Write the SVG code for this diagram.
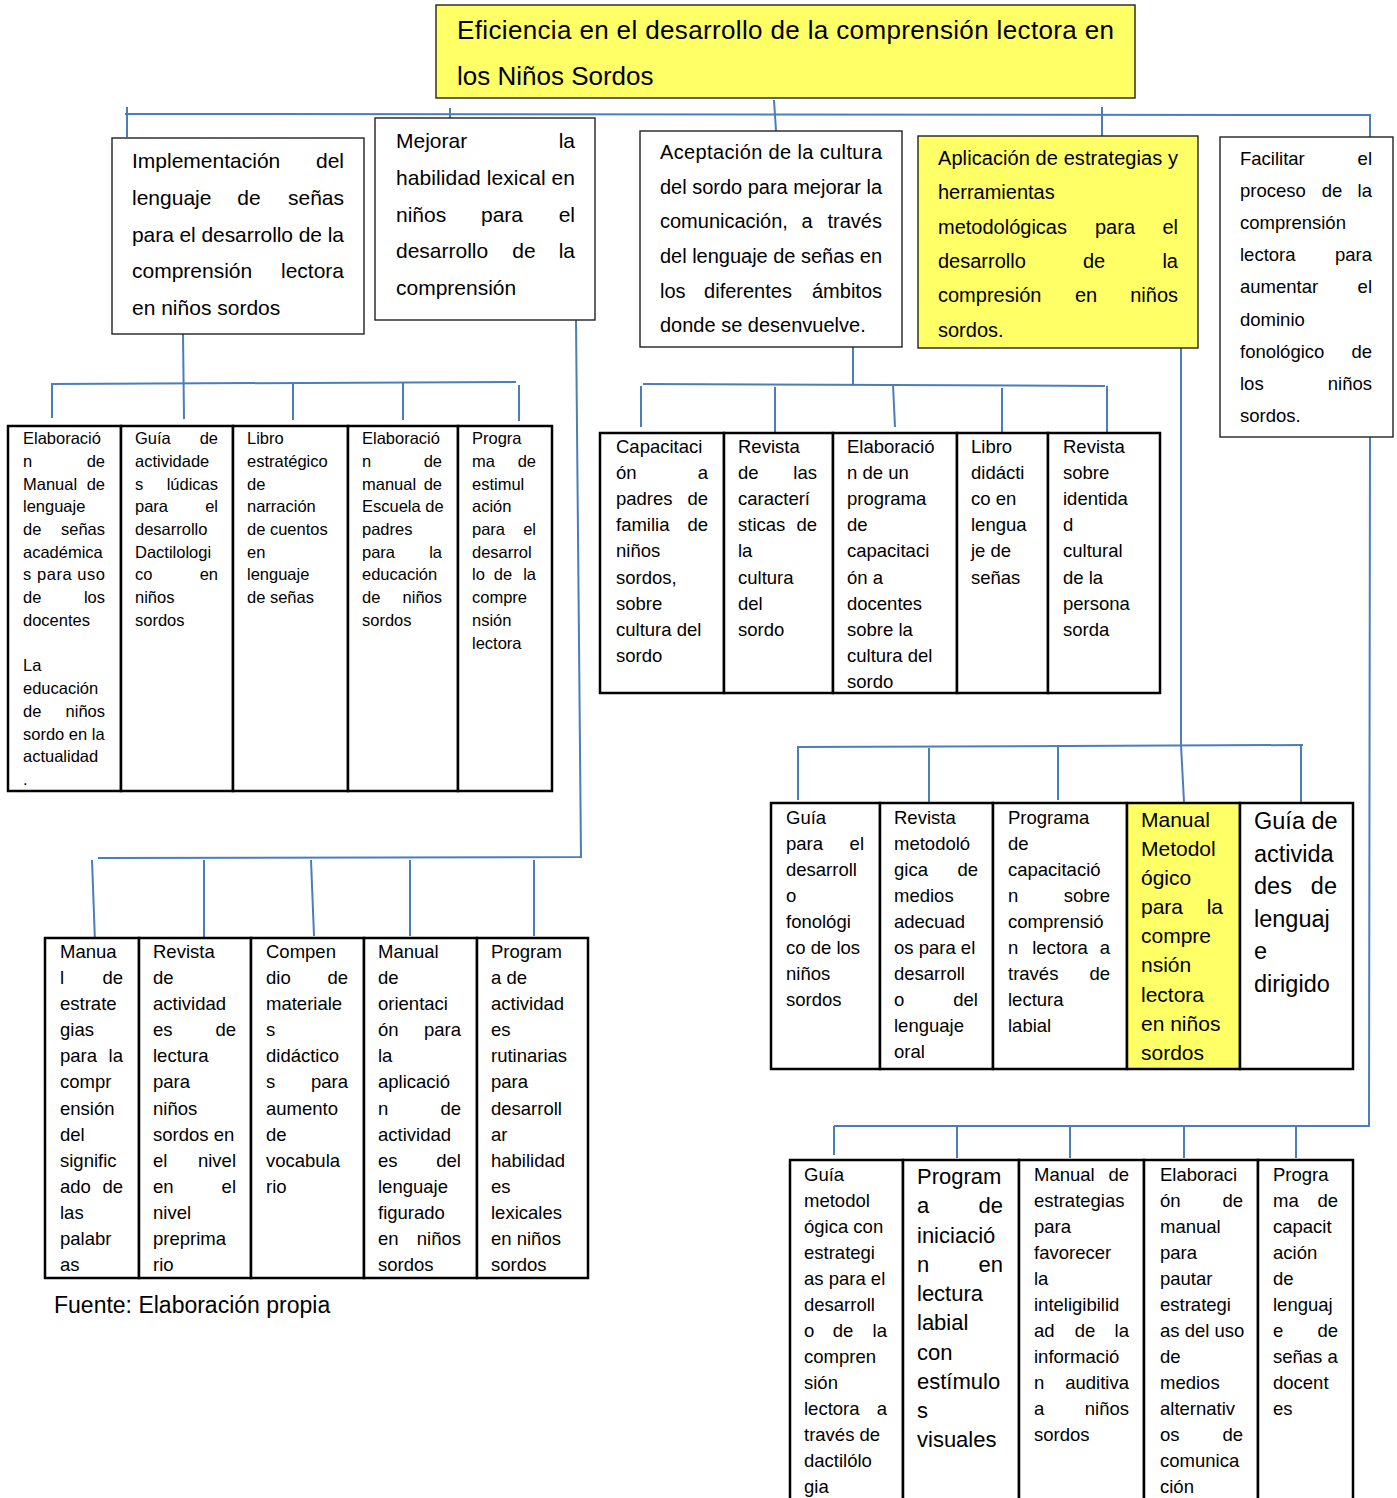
<svg xmlns="http://www.w3.org/2000/svg" width="1397" height="1498" viewBox="0 0 1397 1498">
<style>
text{font-family:"Liberation Sans",Arial,sans-serif;fill:#000}
.bx{fill:#fff;stroke:#222;stroke-width:1.4}
.yl{fill:#FFFF66}
.cl{fill:#fff;stroke:#000;stroke-width:2.5}
.cy{fill:#FFFF66;stroke:#000;stroke-width:2.5}
.cn{fill:none;stroke:#4A7EBB;stroke-width:2}
.r{text-anchor:end}
.m{text-anchor:middle}
.tt{font-size:26px}
.s21{font-size:21px}
.s20{font-size:20px}
.se{font-size:18.5px}
.s16{font-size:16.5px}
.s18{font-size:18.5px}
.s22{font-size:21px}
.s24{font-size:23.5px}
.s22b{font-size:22px}
.cap{font-size:23px}
</style>
<rect width="1397" height="1498" fill="#fff"/>

<g id="connectors">
<polyline class="cn" points="125,114 1370,115 1370,147"/>
<line class="cn" x1="127" y1="107" x2="127" y2="137"/>
<line class="cn" x1="450" y1="108" x2="450" y2="129"/>
<line class="cn" x1="774" y1="100" x2="776" y2="131"/>
<line class="cn" x1="1102" y1="107" x2="1102" y2="144"/>
<line class="cn" x1="183" y1="334" x2="184" y2="419"/>
<line class="cn" x1="51" y1="384" x2="516" y2="382"/>
<line class="cn" x1="52" y1="384" x2="52" y2="418"/>
<line class="cn" x1="293" y1="384" x2="293" y2="420"/>
<line class="cn" x1="403" y1="383" x2="403" y2="420"/>
<line class="cn" x1="519" y1="385" x2="519" y2="421"/>
<line class="cn" x1="853" y1="347" x2="853" y2="386"/>
<line class="cn" x1="643" y1="384" x2="1105" y2="386"/>
<line class="cn" x1="641" y1="386" x2="641" y2="427"/>
<line class="cn" x1="775" y1="387" x2="775" y2="432"/>
<line class="cn" x1="893" y1="385" x2="895" y2="427"/>
<line class="cn" x1="1002" y1="388" x2="1002" y2="432"/>
<line class="cn" x1="1107" y1="386" x2="1107" y2="432"/>
<polyline class="cn" points="1181,348 1181,745 1184,802"/>
<line class="cn" x1="798" y1="747" x2="1303" y2="745"/>
<line class="cn" x1="798" y1="746" x2="798" y2="800"/>
<line class="cn" x1="929" y1="748" x2="929" y2="802"/>
<line class="cn" x1="1058" y1="745" x2="1058" y2="800"/>
<line class="cn" x1="1301" y1="746" x2="1301" y2="802"/>
<polyline class="cn" points="1370,437 1369,1126 834,1126"/>
<line class="cn" x1="834" y1="1126" x2="834" y2="1155"/>
<line class="cn" x1="957" y1="1126" x2="957" y2="1158"/>
<line class="cn" x1="1070" y1="1126" x2="1070" y2="1158"/>
<line class="cn" x1="1184" y1="1126" x2="1184" y2="1158"/>
<line class="cn" x1="1296" y1="1126" x2="1296" y2="1158"/>
<polyline class="cn" points="576,320 581,857 98,858"/>
<line class="cn" x1="92" y1="860" x2="95" y2="942"/>
<line class="cn" x1="204" y1="860" x2="204" y2="938"/>
<line class="cn" x1="311" y1="860" x2="314" y2="936"/>
<line class="cn" x1="410" y1="860" x2="410" y2="936"/>
<line class="cn" x1="534" y1="860" x2="534" y2="936"/>
</g>

<g id="n0">
<rect class="bx yl" x="436" y="5" width="699" height="93"/>
<text class="tt" x="457" y="39" textLength="657" lengthAdjust="spacing">Eficiencia en el desarrollo de la comprensión lectora en</text>
<text class="tt" x="457" y="85">los Niños Sordos</text>
</g>

<g id="n1" class="s21">
<rect class="bx" x="112" y="138" width="252" height="196"/>
<text x="132" y="168">Implementación</text><text class="r" x="344" y="168">del</text>
<text x="132" y="205">lenguaje</text><text class="m" x="249" y="205">de</text><text class="r" x="344" y="205">señas</text>
<text x="132" y="242" textLength="212" lengthAdjust="spacing">para el desarrollo de la</text>
<text x="132" y="278">comprensión</text><text class="r" x="344" y="278">lectora</text>
<text x="132" y="315">en niños sordos</text>
</g>

<g id="n2" class="s21">
<rect class="bx" x="375" y="118" width="220" height="202"/>
<text x="396" y="148">Mejorar</text><text class="r" x="575" y="148">la</text>
<text x="396" y="185" textLength="179" lengthAdjust="spacing">habilidad lexical en</text>
<text x="396" y="222">niños</text><text class="m" x="502" y="222">para</text><text class="r" x="575" y="222">el</text>
<text x="396" y="258">desarrollo</text><text class="m" x="524" y="258">de</text><text class="r" x="575" y="258">la</text>
<text x="396" y="295">comprensión</text>
</g>

<g id="n3" class="s20">
<rect class="bx" x="640" y="131" width="262" height="216"/>
<text x="660" y="159" textLength="222" lengthAdjust="spacing">Aceptación de la cultura</text>
<text x="660" y="194" textLength="222" lengthAdjust="spacing">del sordo para mejorar la</text>
<text x="660" y="228">comunicación,</text><text class="m" x="807" y="228">a</text><text class="r" x="882" y="228">través</text>
<text x="660" y="263" textLength="222" lengthAdjust="spacing">del lenguaje de señas en</text>
<text x="660" y="298">los</text><text class="m" x="748" y="298">diferentes</text><text class="r" x="882" y="298">ámbitos</text>
<text x="660" y="332">donde se desenvuelve.</text>
</g>

<g id="n4" class="s20">
<rect class="bx yl" x="918" y="136" width="280" height="212"/>
<text x="938" y="165" textLength="240" lengthAdjust="spacing">Aplicación de estrategias y</text>
<text x="938" y="199">herramientas</text>
<text x="938" y="234">metodológicas</text><text class="m" x="1115" y="234">para</text><text class="r" x="1178" y="234">el</text>
<text x="938" y="268">desarrollo</text><text class="m" x="1094" y="268">de</text><text class="r" x="1178" y="268">la</text>
<text x="938" y="302">compresión</text><text class="m" x="1086" y="302">en</text><text class="r" x="1178" y="302">niños</text>
<text x="938" y="337">sordos.</text>
</g>

<g id="n5" class="se">
<rect class="bx" x="1220" y="137" width="173" height="300"/>
<text x="1240" y="165">Facilitar</text><text class="r" x="1372" y="165">el</text>
<text x="1240" y="197">proceso</text><text class="m" x="1332" y="197">de</text><text class="r" x="1372" y="197">la</text>
<text x="1240" y="229">comprensión</text>
<text x="1240" y="261">lectora</text><text class="r" x="1372" y="261">para</text>
<text x="1240" y="293">aumentar</text><text class="r" x="1372" y="293">el</text>
<text x="1240" y="326">dominio</text>
<text x="1240" y="358">fonológico</text><text class="r" x="1372" y="358">de</text>
<text x="1240" y="390">los</text><text class="r" x="1372" y="390">niños</text>
<text x="1240" y="422">sordos.</text>
</g>

<!-- Table 1 -->
<g id="n6" class="s16">
<rect class="cl" x="8" y="426" width="113" height="365"/>
<text x="23" y="444">Elaboració</text>
<text x="23" y="467">n</text><text class="r" x="105" y="467">de</text>
<text x="23" y="490">Manual</text><text class="r" x="105" y="490">de</text>
<text x="23" y="512">lenguaje</text>
<text x="23" y="535">de</text><text class="r" x="105" y="535">señas</text>
<text x="23" y="558">académica</text>
<text x="23" y="580" textLength="82" lengthAdjust="spacing">s para uso</text>
<text x="23" y="603">de</text><text class="r" x="105" y="603">los</text>
<text x="23" y="626">docentes</text>
<text x="23" y="671">La</text>
<text x="23" y="694">educación</text>
<text x="23" y="717">de</text><text class="r" x="105" y="717">niños</text>
<text x="23" y="740">sordo en la</text>
<text x="23" y="762">actualidad</text>
<text x="23" y="785">.</text>
</g>
<g id="n7" class="s16">
<rect class="cl" x="121" y="426" width="112" height="365"/>
<text x="135" y="444">Guía</text><text class="r" x="218" y="444">de</text>
<text x="135" y="467">actividade</text>
<text x="135" y="490">s</text><text class="r" x="218" y="490">lúdicas</text>
<text x="135" y="512">para</text><text class="r" x="218" y="512">el</text>
<text x="135" y="535">desarrollo</text>
<text x="135" y="558">Dactilologi</text>
<text x="135" y="580">co</text><text class="r" x="218" y="580">en</text>
<text x="135" y="603">niños</text>
<text x="135" y="626">sordos</text>
</g>
<g id="n8" class="s16">
<rect class="cl" x="233" y="426" width="115" height="365"/>
<text x="247" y="444">Libro</text>
<text x="247" y="467">estratégico</text>
<text x="247" y="490">de</text>
<text x="247" y="512">narración</text>
<text x="247" y="535">de cuentos</text>
<text x="247" y="558">en</text>
<text x="247" y="580">lenguaje</text>
<text x="247" y="603">de señas</text>
</g>
<g id="n9" class="s16">
<rect class="cl" x="348" y="426" width="110" height="365"/>
<text x="362" y="444">Elaboració</text>
<text x="362" y="467">n</text><text class="r" x="442" y="467">de</text>
<text x="362" y="490">manual</text><text class="r" x="442" y="490">de</text>
<text x="362" y="512">Escuela de</text>
<text x="362" y="535">padres</text>
<text x="362" y="558">para</text><text class="r" x="442" y="558">la</text>
<text x="362" y="580">educación</text>
<text x="362" y="603">de</text><text class="r" x="442" y="603">niños</text>
<text x="362" y="626">sordos</text>
</g>
<g id="n10" class="s16">
<rect class="cl" x="458" y="426" width="94" height="365"/>
<text x="472" y="444">Progra</text>
<text x="472" y="467">ma</text><text class="r" x="536" y="467">de</text>
<text x="472" y="490">estimul</text>
<text x="472" y="512">ación</text>
<text x="472" y="535">para</text><text class="r" x="536" y="535">el</text>
<text x="472" y="558">desarrol</text>
<text x="472" y="580">lo</text><text class="m" x="503" y="580">de</text><text class="r" x="536" y="580">la</text>
<text x="472" y="603">compre</text>
<text x="472" y="626">nsión</text>
<text x="472" y="649">lectora</text>
</g>

<!-- Table 2 -->
<g id="n11" class="s18">
<rect class="cl" x="600" y="433" width="124" height="260"/>
<text x="616" y="453">Capacitaci</text>
<text x="616" y="479">ón</text><text class="r" x="708" y="479">a</text>
<text x="616" y="505">padres</text><text class="r" x="708" y="505">de</text>
<text x="616" y="531">familia</text><text class="r" x="708" y="531">de</text>
<text x="616" y="557">niños</text>
<text x="616" y="584">sordos,</text>
<text x="616" y="610">sobre</text>
<text x="616" y="636">cultura del</text>
<text x="616" y="662">sordo</text>
</g>
<g id="n12" class="s18">
<rect class="cl" x="724" y="433" width="109" height="260"/>
<text x="738" y="453">Revista</text>
<text x="738" y="479">de</text><text class="r" x="817" y="479">las</text>
<text x="738" y="505">caracterí</text>
<text x="738" y="531">sticas</text><text class="r" x="817" y="531">de</text>
<text x="738" y="557">la</text>
<text x="738" y="584">cultura</text>
<text x="738" y="610">del</text>
<text x="738" y="636">sordo</text>
</g>
<g id="n13" class="s18">
<rect class="cl" x="833" y="433" width="124" height="260"/>
<text x="847" y="453">Elaboració</text>
<text x="847" y="479">n de un</text>
<text x="847" y="505">programa</text>
<text x="847" y="531">de</text>
<text x="847" y="557">capacitaci</text>
<text x="847" y="584">ón a</text>
<text x="847" y="610">docentes</text>
<text x="847" y="636">sobre la</text>
<text x="847" y="662">cultura del</text>
<text x="847" y="688">sordo</text>
</g>
<g id="n14" class="s18">
<rect class="cl" x="957" y="433" width="91" height="260"/>
<text x="971" y="453">Libro</text>
<text x="971" y="479">didácti</text>
<text x="971" y="505">co en</text>
<text x="971" y="531">lengua</text>
<text x="971" y="557">je de</text>
<text x="971" y="584">señas</text>
</g>
<g id="n15" class="s18">
<rect class="cl" x="1048" y="433" width="112" height="260"/>
<text x="1063" y="453">Revista</text>
<text x="1063" y="479">sobre</text>
<text x="1063" y="505">identida</text>
<text x="1063" y="531">d</text>
<text x="1063" y="557">cultural</text>
<text x="1063" y="584">de la</text>
<text x="1063" y="610">persona</text>
<text x="1063" y="636">sorda</text>
</g>

<!-- Table 3 -->
<g id="n16" class="s18">
<rect class="cl" x="771" y="803" width="109" height="266"/>
<text x="786" y="824">Guía</text>
<text x="786" y="850">para</text><text class="r" x="864" y="850">el</text>
<text x="786" y="876">desarroll</text>
<text x="786" y="902">o</text>
<text x="786" y="928">fonológi</text>
<text x="786" y="954">co de los</text>
<text x="786" y="980">niños</text>
<text x="786" y="1006">sordos</text>
</g>
<g id="n17" class="s18">
<rect class="cl" x="880" y="803" width="113" height="266"/>
<text x="894" y="824">Revista</text>
<text x="894" y="850">metodoló</text>
<text x="894" y="876">gica</text><text class="r" x="978" y="876">de</text>
<text x="894" y="902">medios</text>
<text x="894" y="928">adecuad</text>
<text x="894" y="954">os para el</text>
<text x="894" y="980">desarroll</text>
<text x="894" y="1006">o</text><text class="r" x="978" y="1006">del</text>
<text x="894" y="1032">lenguaje</text>
<text x="894" y="1058">oral</text>
</g>
<g id="n18" class="s18">
<rect class="cl" x="993" y="803" width="134" height="266"/>
<text x="1008" y="824">Programa</text>
<text x="1008" y="850">de</text>
<text x="1008" y="876">capacitació</text>
<text x="1008" y="902">n</text><text class="r" x="1110" y="902">sobre</text>
<text x="1008" y="928">comprensió</text>
<text x="1008" y="954">n</text><text class="m" x="1060" y="954">lectora</text><text class="r" x="1110" y="954">a</text>
<text x="1008" y="980">través</text><text class="r" x="1110" y="980">de</text>
<text x="1008" y="1006">lectura</text>
<text x="1008" y="1032">labial</text>
</g>
<g id="n19" class="s22">
<rect class="cy" x="1127" y="803" width="113" height="266"/>
<text x="1141" y="827">Manual</text>
<text x="1141" y="856">Metodol</text>
<text x="1141" y="885">ógico</text>
<text x="1141" y="914">para</text><text class="r" x="1223" y="914">la</text>
<text x="1141" y="943">compre</text>
<text x="1141" y="972">nsión</text>
<text x="1141" y="1002">lectora</text>
<text x="1141" y="1031">en niños</text>
<text x="1141" y="1060">sordos</text>
</g>
<g id="n20" class="s24">
<rect class="cl" x="1240" y="803" width="113" height="266"/>
<text x="1254" y="829">Guía de</text>
<text x="1254" y="862">activida</text>
<text x="1254" y="894">des</text><text class="r" x="1337" y="894">de</text>
<text x="1254" y="927">lenguaj</text>
<text x="1254" y="959">e</text>
<text x="1254" y="992">dirigido</text>
</g>

<!-- Table 4 -->
<g id="n21" class="s18">
<rect class="cl" x="790" y="1160" width="113" height="345"/>
<text x="804" y="1181">Guía</text>
<text x="804" y="1207">metodol</text>
<text x="804" y="1233">ógica con</text>
<text x="804" y="1259">estrategi</text>
<text x="804" y="1285">as para el</text>
<text x="804" y="1311">desarroll</text>
<text x="804" y="1337">o</text><text class="m" x="843" y="1337">de</text><text class="r" x="887" y="1337">la</text>
<text x="804" y="1363">compren</text>
<text x="804" y="1389">sión</text>
<text x="804" y="1415">lectora</text><text class="r" x="887" y="1415">a</text>
<text x="804" y="1441">través de</text>
<text x="804" y="1467">dactilólo</text>
<text x="804" y="1493">gia</text>
</g>
<g id="n22" class="s22b">
<rect class="cl" x="903" y="1160" width="116" height="345"/>
<text x="917" y="1184">Program</text>
<text x="917" y="1213">a</text><text class="r" x="1003" y="1213">de</text>
<text x="917" y="1243">iniciació</text>
<text x="917" y="1272">n</text><text class="r" x="1003" y="1272">en</text>
<text x="917" y="1301">lectura</text>
<text x="917" y="1330">labial</text>
<text x="917" y="1360">con</text>
<text x="917" y="1389">estímulo</text>
<text x="917" y="1418">s</text>
<text x="917" y="1447">visuales</text>
</g>
<g id="n23" class="s18">
<rect class="cl" x="1019" y="1160" width="125" height="345"/>
<text x="1034" y="1181">Manual</text><text class="r" x="1129" y="1181">de</text>
<text x="1034" y="1207">estrategias</text>
<text x="1034" y="1233">para</text>
<text x="1034" y="1259">favorecer</text>
<text x="1034" y="1285">la</text>
<text x="1034" y="1311">inteligibilid</text>
<text x="1034" y="1337">ad</text><text class="m" x="1085" y="1337">de</text><text class="r" x="1129" y="1337">la</text>
<text x="1034" y="1363">informació</text>
<text x="1034" y="1389">n</text><text class="r" x="1129" y="1389">auditiva</text>
<text x="1034" y="1415">a</text><text class="r" x="1129" y="1415">niños</text>
<text x="1034" y="1441">sordos</text>
</g>
<g id="n24" class="s18">
<rect class="cl" x="1144" y="1160" width="114" height="345"/>
<text x="1160" y="1181">Elaboraci</text>
<text x="1160" y="1207">ón</text><text class="r" x="1243" y="1207">de</text>
<text x="1160" y="1233">manual</text>
<text x="1160" y="1259">para</text>
<text x="1160" y="1285">pautar</text>
<text x="1160" y="1311">estrategi</text>
<text x="1160" y="1337">as del uso</text>
<text x="1160" y="1363">de</text>
<text x="1160" y="1389">medios</text>
<text x="1160" y="1415">alternativ</text>
<text x="1160" y="1441">os</text><text class="r" x="1243" y="1441">de</text>
<text x="1160" y="1467">comunica</text>
<text x="1160" y="1493">ción</text>
</g>
<g id="n25" class="s18">
<rect class="cl" x="1258" y="1160" width="95" height="345"/>
<text x="1273" y="1181">Progra</text>
<text x="1273" y="1207">ma</text><text class="r" x="1338" y="1207">de</text>
<text x="1273" y="1233">capacit</text>
<text x="1273" y="1259">ación</text>
<text x="1273" y="1285">de</text>
<text x="1273" y="1311">lenguaj</text>
<text x="1273" y="1337">e</text><text class="r" x="1338" y="1337">de</text>
<text x="1273" y="1363">señas a</text>
<text x="1273" y="1389">docent</text>
<text x="1273" y="1415">es</text>
</g>

<!-- Table 5 -->
<g id="n26" class="s18">
<rect class="cl" x="45" y="938" width="94" height="340"/>
<text x="60" y="958">Manua</text>
<text x="60" y="984">l</text><text class="r" x="123" y="984">de</text>
<text x="60" y="1010">estrate</text>
<text x="60" y="1036">gias</text>
<text x="60" y="1062">para</text><text class="r" x="123" y="1062">la</text>
<text x="60" y="1088">compr</text>
<text x="60" y="1115">ensión</text>
<text x="60" y="1141">del</text>
<text x="60" y="1167">signific</text>
<text x="60" y="1193">ado</text><text class="r" x="123" y="1193">de</text>
<text x="60" y="1219">las</text>
<text x="60" y="1245">palabr</text>
<text x="60" y="1271">as</text>
</g>
<g id="n27" class="s18">
<rect class="cl" x="139" y="938" width="112" height="340"/>
<text x="153" y="958">Revista</text>
<text x="153" y="984">de</text>
<text x="153" y="1010">actividad</text>
<text x="153" y="1036">es</text><text class="r" x="236" y="1036">de</text>
<text x="153" y="1062">lectura</text>
<text x="153" y="1088">para</text>
<text x="153" y="1115">niños</text>
<text x="153" y="1141">sordos en</text>
<text x="153" y="1167">el</text><text class="r" x="236" y="1167">nivel</text>
<text x="153" y="1193">en</text><text class="r" x="236" y="1193">el</text>
<text x="153" y="1219">nivel</text>
<text x="153" y="1245">preprima</text>
<text x="153" y="1271">rio</text>
</g>
<g id="n28" class="s18">
<rect class="cl" x="251" y="938" width="113" height="340"/>
<text x="266" y="958">Compen</text>
<text x="266" y="984">dio</text><text class="r" x="348" y="984">de</text>
<text x="266" y="1010">materiale</text>
<text x="266" y="1036">s</text>
<text x="266" y="1062">didáctico</text>
<text x="266" y="1088">s</text><text class="r" x="348" y="1088">para</text>
<text x="266" y="1115">aumento</text>
<text x="266" y="1141">de</text>
<text x="266" y="1167">vocabula</text>
<text x="266" y="1193">rio</text>
</g>
<g id="n29" class="s18">
<rect class="cl" x="364" y="938" width="113" height="340"/>
<text x="378" y="958">Manual</text>
<text x="378" y="984">de</text>
<text x="378" y="1010">orientaci</text>
<text x="378" y="1036">ón</text><text class="r" x="461" y="1036">para</text>
<text x="378" y="1062">la</text>
<text x="378" y="1088">aplicació</text>
<text x="378" y="1115">n</text><text class="r" x="461" y="1115">de</text>
<text x="378" y="1141">actividad</text>
<text x="378" y="1167">es</text><text class="r" x="461" y="1167">del</text>
<text x="378" y="1193">lenguaje</text>
<text x="378" y="1219">figurado</text>
<text x="378" y="1245">en</text><text class="r" x="461" y="1245">niños</text>
<text x="378" y="1271">sordos</text>
</g>
<g id="n30" class="s18">
<rect class="cl" x="477" y="938" width="111" height="340"/>
<text x="491" y="958">Program</text>
<text x="491" y="984">a de</text>
<text x="491" y="1010">actividad</text>
<text x="491" y="1036">es</text>
<text x="491" y="1062">rutinarias</text>
<text x="491" y="1088">para</text>
<text x="491" y="1115">desarroll</text>
<text x="491" y="1141">ar</text>
<text x="491" y="1167">habilidad</text>
<text x="491" y="1193">es</text>
<text x="491" y="1219">lexicales</text>
<text x="491" y="1245">en niños</text>
<text x="491" y="1271">sordos</text>
</g>

<g id="caption">
<text class="cap" x="54" y="1313">Fuente: Elaboración propia</text>
</g>
</svg>
